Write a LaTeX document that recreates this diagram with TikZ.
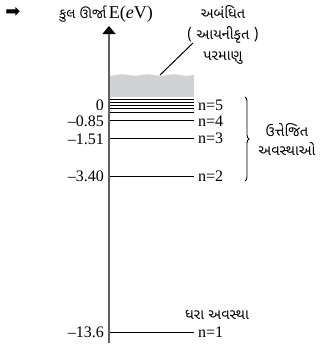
\documentclass[tikz,border=0pt]{standalone}
\usepackage{fontspec}
\setmainfont{Liberation Serif}
\newfontfamily\gujfont[Script=Gujarati]{Noto Sans Gujarati UI}
\newfontfamily\symfont{DejaVu Sans}
\usetikzlibrary{arrows.meta,decorations.pathreplacing}
\definecolor{LVgray}{RGB}{95,95,95}
\definecolor{LVfill}{RGB}{208,211,211}
\tikzset{
  axis/.style={draw=LVgray,line width=1.3pt,-{Triangle[width=13pt,length=8pt,color=black]}},
  level/.style={draw=black,line width=0.9pt},
  elabel/.style={anchor=east,inner sep=0pt,font=\fontsize{16}{18}\selectfont},
  nlabel/.style={anchor=west,inner sep=0pt,font=\fontsize{16}{18}\selectfont},
  gtext/.style={align=center,inner sep=0pt,font=\gujfont\fontsize{14.5}{21}\selectfont},
  pointer/.style={draw=black,line width=1pt},
  bracket/.style={draw=black,line width=0.9pt,decorate,decoration={brace,amplitude=4pt}}
}

\begin{document}
\begin{tikzpicture}[x=1pt,y=-1pt]
  \useasboundingbox (0,0) rectangle (324,346);
  % title and pointer
  \node[inner sep=0pt,font=\symfont\fontsize{18}{18}\selectfont] (mark) at (13,12) {➡};
  \node[inner sep=0pt] (title) at (106,14)
    {{\gujfont\fontsize{14}{14}\selectfont કુલ ઊર્જા} {\fontsize{18}{18}\selectfont E(\textit{e}V)}};
  % ionised region
  \fill[LVfill] (109,97) -- plot[domain=109:194,samples=40] (\x,{75+0.7*sin(\x*14)}) -- (194,97) -- cycle;
  % energy levels
  \foreach \y [count=\i] in {99,102.3,105.6,108.9,112.2} {
    \coordinate (a\i) at (109,\y); \coordinate (b\i) at (194,\y);
    \draw[level] (a\i) -- (b\i);
  }
  \foreach \nm/\y in {four/120,three/138,two/176,one/332} {
    \coordinate (a\nm) at (109,\y); \coordinate (b\nm) at (194,\y);
    \draw[level] (a\nm) -- (b\nm);
  }
  % axis
  \coordinate (axbot) at (109,343);
  \coordinate (axtop) at (109,26);
  \draw[axis] (axbot) -- (axtop);
  % energy values
  \node[elabel] (e5) at (104,105) {0};
  \node[elabel] (e4) at (104,121) {--0.85};
  \node[elabel] (e3) at (104,139) {--1.51};
  \node[elabel] (e2) at (104,176) {--3.40};
  \node[elabel] (e1) at (104,332) {--13.6};
  % quantum numbers
  \node[nlabel] (n5) at (198,105) {n=5};
  \node[nlabel] (n4) at (198,121) {n=4};
  \node[nlabel] (n3) at (198,138) {n=3};
  \node[nlabel] (n2) at (198,176) {n=2};
  \node[nlabel] (n1) at (198,332) {n=1};
  % side labels
  \node[gtext] (ion) at (223,35) {અબંધિત\\( આયનીકૃત )\\પરમાણુ};
  \coordinate (ionfoot) at (193,43);
  \coordinate (iontip) at (160,75);
  \draw[pointer] (ionfoot) -- (iontip);
  \coordinate (brtop) at (245,97);
  \coordinate (brbot) at (245,181);
  \draw[bracket] (brtop) -- (brbot);
  \node[gtext,font=\gujfont\fontsize{14.5}{19}\selectfont] (exc) at (287,140) {ઉત્તેજિત\\અવસ્થાઓ};
  \node[gtext] (gnd) at (217,315) {ધરા અવસ્થા};
\end{tikzpicture}
\end{document}
